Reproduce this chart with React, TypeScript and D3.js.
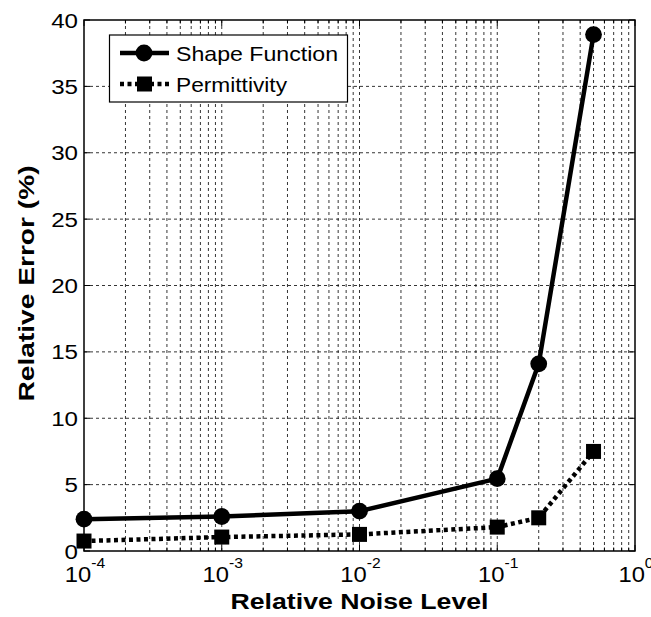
import React from 'react';
import * as d3 from 'd3';

// noise levels and errors
const noiseLevels = [1e-4, 1e-3, 1e-2, 1e-1, 0.2, 0.5];
const shapeFunction = [2.4, 2.6, 3.0, 5.45, 14.1, 38.9];
const permittivity = [0.75, 1.05, 1.25, 1.8, 2.5, 7.5];
const xTickExps = [-4, -3, -2, -1, 0];
const yTicks = [0, 5, 10, 15, 20, 25, 30, 35, 40];

const W = 651;
const H = 617;
const margin = { left: 84, right: 16, top: 20, bottom: 66 };
const font = 'Liberation Sans, Arial, Helvetica, sans-serif';

function App() {
  const x = d3.scaleLog().domain([1e-4, 1]).range([margin.left, W - margin.right]);
  const y = d3.scaleLinear().domain([0, 40]).range([H - margin.bottom, margin.top]);

  const x0 = x.range()[0], x1 = x.range()[1];
  const y0 = y.range()[0], y1 = y.range()[1];

  // all log ticks (1..9 per decade)
  const allX = x.ticks();
  const majorX = xTickExps.map(e => Math.pow(10, e));
  const isMajor = (v: number) => majorX.some(m => Math.abs(Math.log10(v) - Math.log10(m)) < 1e-9);

  const line = d3.line<number>()
    .x((d, i) => x(noiseLevels[i]))
    .y(d => y(d));

  return (
    <svg width={W} height={H} style={{ position: 'absolute', left: 0, top: 0, background: '#fff' }}
      fontFamily={font}>
      <rect x={0} y={0} width={W} height={H} fill="#fff" />
      {/* grid */}
      <g stroke="#000" strokeWidth={0.8} strokeDasharray="3,3">
        {allX.filter(v => v > 1e-4 && v < 1).map((v, i) => (
          <line key={'gx' + i} x1={x(v)} x2={x(v)} y1={y0} y2={y1} />
        ))}
        {yTicks.filter(v => v > 0 && v < 40).map(v => (
          <line key={'gy' + v} x1={x0} x2={x1} y1={y(v)} y2={y(v)} />
        ))}
      </g>
      {/* ticks inside */}
      <g stroke="#000" strokeWidth={1}>
        {allX.map((v, i) => {
          const len = isMajor(v) ? 6 : 3.5;
          return (
            <g key={'tx' + i}>
              <line x1={x(v)} x2={x(v)} y1={y0} y2={y0 - len} />
              <line x1={x(v)} x2={x(v)} y1={y1} y2={y1 + len} />
            </g>
          );
        })}
        {yTicks.map(v => (
          <g key={'ty' + v}>
            <line x1={x0} x2={x0 + 6} y1={y(v)} y2={y(v)} />
            <line x1={x1} x2={x1 - 6} y1={y(v)} y2={y(v)} />
          </g>
        ))}
      </g>
      {/* series */}
      <path d={line(shapeFunction) || ''} fill="none" stroke="#000" strokeWidth={4.5} strokeLinejoin="round" />
      <path d={line(permittivity) || ''} fill="none" stroke="#000" strokeWidth={4.5} strokeDasharray="4,3.5" />
      {shapeFunction.map((v, i) => (
        <circle key={'c' + i} cx={x(noiseLevels[i])} cy={y(v)} r={8.4} fill="#000" />
      ))}
      {permittivity.map((v, i) => (
        <rect key={'s' + i} x={x(noiseLevels[i]) - 7.5} y={y(v) - 7.5} width={15} height={15} fill="#000" />
      ))}
      {/* box */}
      <rect x={x0} y={y1} width={x1 - x0} height={y0 - y1} fill="none" stroke="#000" strokeWidth={1.5} />
      {/* y tick labels */}
      {yTicks.map(v => (
        <text key={'yl' + v} transform={`translate(${x0 - 6},${y(v) + 7.5}) scale(1.15,1)`}
          textAnchor="end" fontSize={21}>{v}</text>
      ))}
      {/* x tick labels */}
      {xTickExps.map(e => (
        <text key={'xl' + e} transform={`translate(${x(Math.pow(10, e)) + 1},582) scale(1.08,1)`}
          textAnchor="middle" fontSize={22}>
          10<tspan fontSize={14.5} dy={-14}>{e}</tspan>
        </text>
      ))}
      {/* axis labels */}
      <text x={(x0 + x1) / 2} y={609} textAnchor="middle" fontSize={22} fontWeight="bold"
        textLength={258} lengthAdjust="spacingAndGlyphs">Relative Noise Level</text>
      <text transform={`translate(34,${(y0 + y1) / 2 - 2}) rotate(-90)`} textAnchor="middle" fontSize={21.5}
        fontWeight="bold" textLength={236} lengthAdjust="spacingAndGlyphs">Relative Error (%)</text>
      {/* legend */}
      <g>
        <rect x={109.5} y={35} width={238} height={67} fill="#fff" stroke="#000" strokeWidth={1.2} />
        <line x1={120} x2={169} y1={53} y2={53} stroke="#000" strokeWidth={4.5} />
        <circle cx={144} cy={53} r={8.4} fill="#000" />
        <text x={176} y={61} fontSize={21} textLength={162} lengthAdjust="spacingAndGlyphs">Shape Function</text>
        <line x1={120} x2={169} y1={84} y2={84} stroke="#000" strokeWidth={4.5} strokeDasharray="4,3.5" />
        <rect x={137} y={76.5} width={15} height={15} fill="#000" />
        <text x={176} y={92} fontSize={21} textLength={111} lengthAdjust="spacingAndGlyphs">Permittivity</text>
      </g>
    </svg>
  );
}

export default App;
